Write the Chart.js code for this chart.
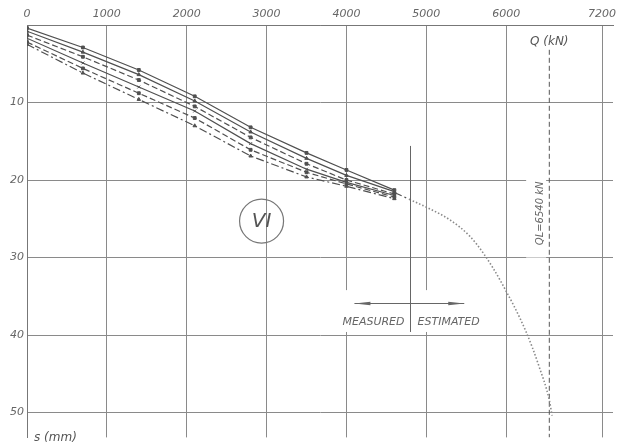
<!DOCTYPE html>
<html>
<head>
<meta charset="utf-8">
<script src="https://cdn.jsdelivr.net/npm/chart.js@4"></script>
<style>
  body { margin: 0; background: #fff; }
  canvas { display: block; }
</style>
</head>
<body>
<canvas id="chart" width="622" height="447"></canvas>
<script>
// Load (kN) vs settlement (mm) - pile load test VI

const xTicks = [0, 1000, 2000, 3000, 4000, 5000, 6000, 7200];
const yTicks = [0, 10, 20, 30, 40, 50];

// load steps of the measured cycles
const loadSteps = [0, 700, 1400, 2100, 2800, 3500, 4000, 4600];
const cycle1 = [0.4, 2.9, 5.8, 9.2, 13.2, 16.5, 18.7, 21.3];
const cycle2 = [0.8, 3.5, 6.4, 9.8, 13.8, 17.2, 19.4, 21.5];
const cycle3 = [1.3, 4.1, 7.1, 10.5, 14.5, 17.9, 20.0, 21.8];
const cycle4 = [1.7, 4.9, 8.0, 11.1, 15.3, 18.6, 20.3, 22.0];
const cycle5 = [2.2, 5.6, 8.8, 12.0, 16.1, 19.0, 20.5, 22.2];
const cycle6 = [2.5, 6.2, 9.6, 13.0, 16.9, 19.6, 20.8, 22.4];

// tail of the measured curve up to the measured/estimated limit
const tailLoad = [4600, 4790];
const tailSettle = [21.6, 22.5];

// estimated (extrapolated) curve
const estLoad = [4790, 5040, 5290, 5540, 5725, 5950, 6250, 6410, 6540, 6575];
const estSettle = [22.5, 23.7, 25.1, 27.2, 29.6, 33.4, 39.6, 44.0, 48.4, 50.4];

// limit load
const limitLoad = 6540;
const measuredLimit = 4790;

function pts(xs, ys) {
    return xs.map((x, i) => ({ x: x, y: ys[i] }));
}

const lineGrey = '#505050';
const labelFont = { family: 'DejaVu Sans', style: 'italic', size: 11 };

function cycleSet(data, dash, style) {
    return {
        data: pts(loadSteps, data),
        showLine: true,
        borderColor: lineGrey,
        backgroundColor: lineGrey,
        borderWidth: 1.2,
        borderDash: dash,
        pointStyle: style,
        pointRadius: 2,
        pointBorderWidth: 1
    };
}

// white gaps behind labels, lines and texts on top
const notesPlugin = {
    id: 'notes',
    beforeDatasetsDraw(chart) {
        const ctx = chart.ctx;
        const x = chart.scales.x, y = chart.scales.y;
        ctx.save();
        ctx.fillStyle = '#fff';
        // gap for MEASURED | ESTIMATED
        ctx.fillRect(x.getPixelForValue(3700), y.getPixelForValue(34.2),
            x.getPixelForValue(5900) - x.getPixelForValue(3700),
            y.getPixelForValue(39.6) - y.getPixelForValue(34.2));
        // gap for the limit load label
        ctx.fillRect(x.getPixelForValue(6250), y.getPixelForValue(19),
            x.getPixelForValue(6500) - x.getPixelForValue(6250),
            y.getPixelForValue(30) - y.getPixelForValue(19));
        ctx.restore();
    },
    afterDatasetsDraw(chart) {
        const ctx = chart.ctx;
        const x = chart.scales.x, y = chart.scales.y;
        ctx.save();
        ctx.strokeStyle = '#666';
        ctx.fillStyle = '#666';
        ctx.lineWidth = 1;

        // measured / estimated divider
        const mx = Math.round(x.getPixelForValue(measuredLimit)) + 0.5;
        ctx.beginPath();
        ctx.moveTo(mx, y.getPixelForValue(15.6));
        ctx.lineTo(mx, y.getPixelForValue(39.6));
        ctx.stroke();

        // arrow line
        const ay = Math.round(y.getPixelForValue(35.9)) + 0.5;
        const ax1 = x.getPixelForValue(4100), ax2 = x.getPixelForValue(5475);
        ctx.beginPath();
        ctx.moveTo(ax1, ay);
        ctx.lineTo(ax2, ay);
        ctx.stroke();
        [[ax1, 1], [ax2, -1]].forEach(([px, d]) => {
            ctx.beginPath();
            ctx.moveTo(px, ay);
            ctx.lineTo(px + d * 16, ay - 1.8);
            ctx.lineTo(px + d * 16, ay + 1.8);
            ctx.closePath();
            ctx.fill();
        });

        ctx.font = 'italic 11px "DejaVu Sans"';
        ctx.textBaseline = 'middle';
        const ty = y.getPixelForValue(38.3);
        ctx.textAlign = 'right';
        ctx.fillText('MEASURED', mx - 6, ty);
        ctx.textAlign = 'left';
        ctx.fillText('ESTIMATED', mx + 7, ty);

        // limit load label, vertical
        ctx.save();
        ctx.translate(x.getPixelForValue(6430), y.getPixelForValue(24.3));
        ctx.rotate(-Math.PI / 2);
        ctx.textAlign = 'center';
        ctx.font = 'italic 10px "DejaVu Sans"';
        ctx.fillText('QL=6540 kN', 0, 0);
        ctx.restore();

        // axis titles
        ctx.font = 'italic 12px "DejaVu Sans"';
        ctx.textAlign = 'left';
        ctx.fillStyle = '#fff';
        ctx.fillRect(528, 34, 56, 15);
        ctx.fillStyle = '#555';
        ctx.fillText('Q (kN)', 530, 42);
        ctx.fillText('s (mm)', 34, 438);

        // test number in a circle
        const cx = x.getPixelForValue(2937), cy = y.getPixelForValue(25.3);
        ctx.strokeStyle = '#777';
        ctx.lineWidth = 1.2;
        ctx.beginPath();
        ctx.arc(cx, cy, 22, 0, Math.PI * 2);
        ctx.stroke();
        ctx.font = 'italic 20px "DejaVu Sans"';
        ctx.textAlign = 'center';
        ctx.fillStyle = '#555';
        ctx.fillText('VI', cx, cy + 1);
        ctx.restore();
    }
};

new Chart(document.getElementById('chart'), {
    type: 'scatter',
    data: {
        datasets: [
            cycleSet(cycle1, [], 'rect'),
            cycleSet(cycle2, [], 'triangle'),
            cycleSet(cycle3, [6, 3], 'rect'),
            cycleSet(cycle4, [], 'crossRot'),
            cycleSet(cycle5, [6, 3], 'rect'),
            cycleSet(cycle6, [8, 3, 2, 3], 'triangle'),
            {
                data: pts(tailLoad, tailSettle),
                showLine: true,
                borderColor: lineGrey,
                borderWidth: 1.2,
                borderDash: [8, 3, 2, 3],
                pointRadius: 0
            },
            {
                data: pts(estLoad, estSettle),
                showLine: true,
                borderColor: '#8a8a8a',
                borderWidth: 1.6,
                borderDash: [1.5, 2],
                cubicInterpolationMode: 'monotone',
                pointRadius: 0
            },
            {
                data: [{ x: limitLoad, y: 3.2 }, { x: limitLoad, y: 53.2 }],
                showLine: true,
                borderColor: '#555',
                borderWidth: 1,
                borderDash: [5, 3],
                pointRadius: 0
            }
        ]
    },
    options: {
        responsive: false,
        animation: false,
        layout: { padding: { top: 0, left: 0, right: 9, bottom: 2 } },
        plugins: {
            legend: { display: false },
            tooltip: { enabled: false }
        },
        scales: {
            x: {
                type: 'linear',
                position: 'top',
                min: 0,
                max: 7337.5,
                afterBuildTicks: function(scale) {
                    scale.ticks = xTicks.map(v => ({ value: v }));
                },
                afterFit: function(scale) { scale.height = 25; },
                grid: { color: '#8a8a8a', lineWidth: 1, drawTicks: false },
                border: { color: '#777', width: 1 },
                ticks: {
                    font: labelFont,
                    color: '#666',
                    padding: 4,
                    maxRotation: 0,
                    autoSkip: false,
                    callback: v => String(v)
                }
            },
            y: {
                type: 'linear',
                reverse: true,
                min: 0,
                max: 53.2,
                afterBuildTicks: function(scale) {
                    scale.ticks = yTicks.map(v => ({ value: v }));
                },
                afterFit: function(scale) { scale.width = 27; },
                grid: { color: '#8a8a8a', lineWidth: 1, drawTicks: false },
                border: { color: '#777', width: 1 },
                ticks: {
                    font: labelFont,
                    color: '#666',
                    padding: 3,
                    callback: v => v === 0 ? '' : String(v)
                }
            }
        }
    },
    plugins: [notesPlugin]
});
</script>
</body>
</html>
